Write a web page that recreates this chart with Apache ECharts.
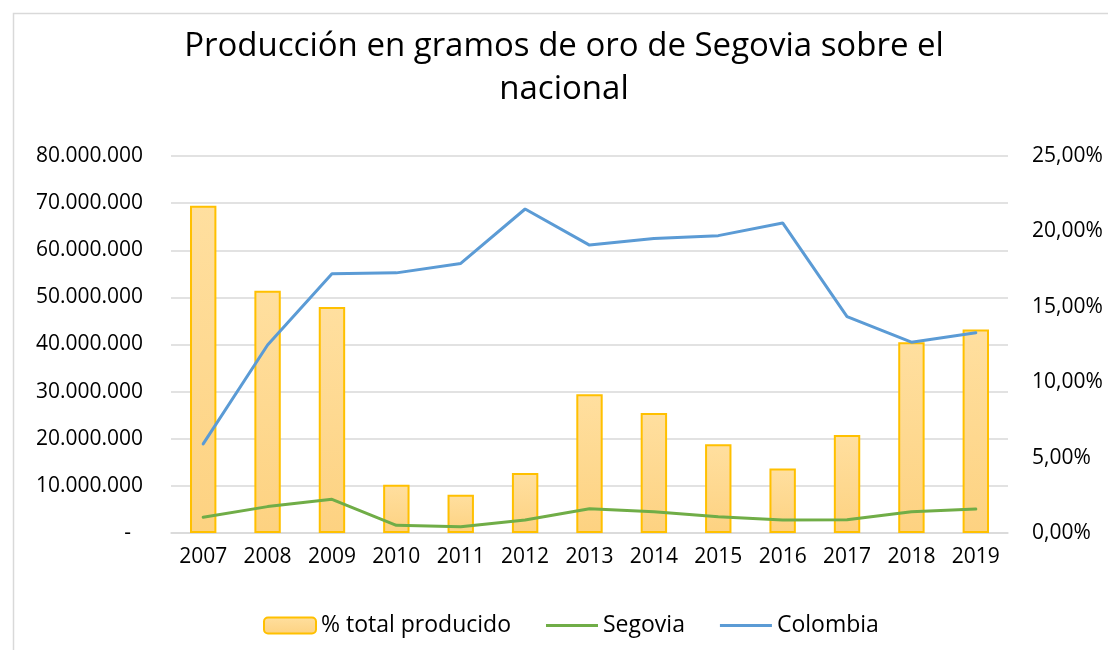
<!DOCTYPE html>
<html>
<head>
<meta charset="utf-8">
<script src="https://cdn.jsdelivr.net/npm/echarts@6/dist/echarts.min.js"></script>
<style>
html,body{margin:0;padding:0;background:#fff;}
#c{width:1108px;height:650px;}
</style>
</head>
<body>
<div id="c"></div>
<script>
const years = ['2007','2008','2009','2010','2011','2012','2013','2014','2015','2016','2017','2018','2019'];
const pctTotal = [21.7, 16.07, 14.99, 3.2, 2.54, 3.98, 9.2, 7.96, 5.88, 4.27, 6.5, 12.65, 13.5];
const segovia = [3330000, 5600000, 7150000, 1630000, 1340000, 2760000, 5160000, 4520000, 3460000, 2760000, 2800000, 4520000, 5090000];
const colombia = [18900000, 39900000, 55000000, 55200000, 57200000, 68750000, 61100000, 62500000, 63100000, 65800000, 45900000, 40500000, 42500000];
const titleText = 'Producción en gramos de oro de Segovia sobre el\nnacional';

const FONT = 'Open Sans';
const LINE_ICON = 'path://M0,0H52V3H0Z';
const chart = echarts.init(document.getElementById('c'));
function thousands(v){
  return String(Math.round(v)).replace(/\B(?=(\d{3})+(?!\d))/g, '.');
}
chart.setOption({
  animation: false,
  backgroundColor: '#fff',
  graphic: [{
    type: 'rect', left: 11, top: 11,
    shape: {width: 1200, height: 700},
    style: {fill: 'none', stroke: '#d9d9d9', lineWidth: 1.5},
    silent: true, z: -10
  }],
  title: {
    text: titleText,
    left: 559, top: 20, textAlign: 'center',
    textStyle: {fontFamily: FONT, fontSize: 33, fontWeight: 'normal', color: '#000', lineHeight: 43}
  },
  grid: {left: 171, right: 100, top: 156, bottom: 117},
  legend: {
    left: 258, top: 609,
    itemWidth: 52, itemHeight: 16, itemGap: 35,
    symbolKeepAspect: true,
    textStyle: {fontFamily: FONT, fontSize: 23, color: '#000'},
    data: [
      {name: '% total producido'},
      {name: 'Segovia', icon: LINE_ICON, itemStyle: {color: '#70ad47'}},
      {name: 'Colombia', icon: LINE_ICON, itemStyle: {color: '#5b9bd5'}}
    ]
  },
  xAxis: {
    type: 'category', data: years,
    axisLine: {lineStyle: {color: '#d9d9d9', width: 1.5}},
    axisTick: {show: false},
    axisLabel: {fontFamily: FONT, fontSize: 21, color: '#000', margin: 14}
  },
  yAxis: [{
    type: 'value', min: 0, max: 80000000, interval: 10000000,
    axisLine: {show: false}, axisTick: {show: false},
    splitLine: {lineStyle: {color: '#d9d9d9', width: 1.5}},
    axisLabel: {
      fontFamily: FONT, fontSize: 21, color: '#000', margin: 28,
      formatter: v => v === 0 ? '{z|-}' : thousands(v),
      rich: {z: {fontFamily: FONT, fontSize: 21, color: '#000', padding: [0, 12, 0, 0]}}
    }
  }, {
    type: 'value', min: 0, max: 25, interval: 5,
    axisLine: {show: false}, axisTick: {show: false},
    splitLine: {show: false},
    axisLabel: {
      fontFamily: FONT, fontSize: 21, color: '#000', margin: 24,
      formatter: v => v.toFixed(2).replace('.', ',') + '%'
    }
  }],
  series: [{
    name: '% total producido', type: 'bar', yAxisIndex: 1, data: pctTotal,
    barWidth: '41%',
    itemStyle: {
      color: new echarts.graphic.LinearGradient(0, 0, 0, 1, [
        {offset: 0, color: '#ffdf9f'}, {offset: 1, color: '#fdd281'}
      ]),
      borderColor: '#ffc000', borderWidth: 2
    }
  }, {
    name: 'Segovia', type: 'line', yAxisIndex: 0, data: segovia,
    symbol: 'none', lineStyle: {color: '#70ad47', width: 3, cap: 'round'},
    itemStyle: {color: '#70ad47'}
  }, {
    name: 'Colombia', type: 'line', yAxisIndex: 0, data: colombia,
    symbol: 'none', lineStyle: {color: '#5b9bd5', width: 3, cap: 'round'},
    itemStyle: {color: '#5b9bd5'}
  }]
});
</script>
</body>
</html>
